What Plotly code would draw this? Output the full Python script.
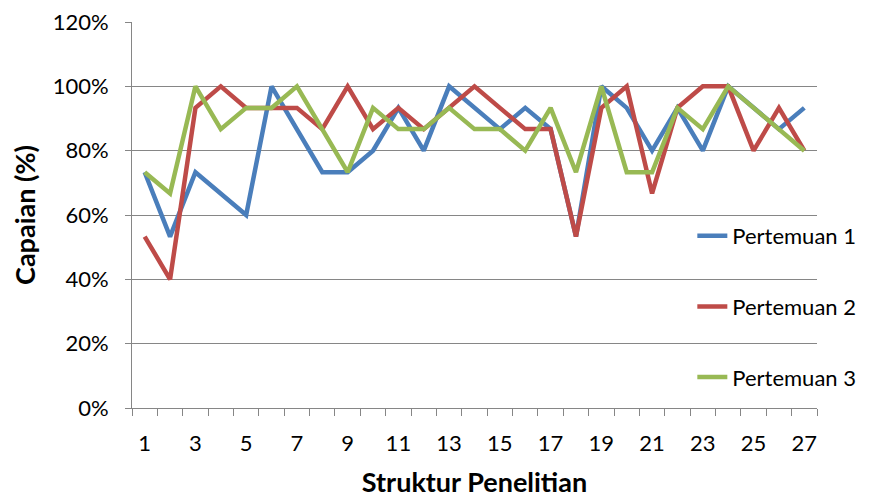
import plotly.graph_objects as go

structures = list(range(1, 28))
x_tick_labels = [str(i) for i in range(1, 28, 2)]

pertemuan_1 = [73.3, 53.3, 73.3, 66.7, 60.0, 100.0, 86.7, 73.3, 73.3, 80.0,
               93.3, 80.0, 100.0, 93.3, 86.7, 93.3, 86.7, 53.3, 100.0, 93.3,
               80.0, 93.3, 80.0, 100.0, 93.3, 86.7, 93.3]
pertemuan_2 = [53.3, 40.0, 93.3, 100.0, 93.3, 93.3, 93.3, 86.7, 100.0, 86.7,
               93.3, 86.7, 93.3, 100.0, 93.3, 86.7, 86.7, 53.3, 93.3, 100.0,
               66.7, 93.3, 100.0, 100.0, 80.0, 93.3, 80.0]
pertemuan_3 = [73.3, 66.7, 100.0, 86.7, 93.3, 93.3, 100.0, 86.7, 73.3, 93.3,
               86.7, 86.7, 93.3, 86.7, 86.7, 80.0, 93.3, 73.3, 100.0, 73.3,
               73.3, 93.3, 86.7, 100.0, 93.3, 86.7, 80.0]

series = [("Pertemuan 1", pertemuan_1, "#4a7ebb"),
          ("Pertemuan 2", pertemuan_2, "#be4b48"),
          ("Pertemuan 3", pertemuan_3, "#98b954")]

FONT = "Lato"
fig = go.Figure()
for i, (name, vals, col) in enumerate(series):
    fig.add_trace(go.Scatter(x=structures, y=vals, mode="lines", name=name,
                             legendgroup=f"g{i}",
                             line=dict(color=col, width=4.5)))

# page body has an 8px margin; figure is sized/margined to compensate
fig.update_layout(
    width=864, height=490,
    margin=dict(l=124, r=55, t=14, b=90, autoexpand=False),
    paper_bgcolor="white", plot_bgcolor="white",
    font=dict(family=FONT, size=22, color="black"),
    showlegend=True,
    legend=dict(x=0.818, y=0.5, xanchor="left", yanchor="top",
                bgcolor="rgba(0,0,0,0)", tracegroupgap=39,
                font=dict(family=FONT, size=22, color="black")),
    xaxis=dict(
        range=[0.5, 27.5],
        automargin=False,
        tickmode="array",
        tickvals=list(range(1, 28, 2)),
        ticktext=x_tick_labels,
        ticks="",
        minor=dict(tick0=0.5, dtick=1, ticks="outside", ticklen=7,
                   tickcolor="#868686", tickwidth=1, showgrid=False),
        showgrid=False, zeroline=False,
        showline=True, linecolor="#868686", linewidth=1,
        ticklabelstandoff=16,
        title=dict(text="<b>Struktur Penelitian</b>", standoff=19,
                   font=dict(family=FONT, size=27)),
    ),
    yaxis=dict(
        range=[0, 120],
        automargin=False,
        ticklabeloverflow="allow",
        tickmode="linear", tick0=0, dtick=20,
        ticksuffix="%",
        ticks="outside", ticklen=6, tickcolor="#868686",
        showgrid=True, gridcolor="#868686", gridwidth=1,
        zeroline=False,
        showline=True, linecolor="#868686", linewidth=1,
        ticklabelstandoff=12,
        title=dict(text="<b>Capaian (%)</b>", standoff=12,
                   font=dict(family=FONT, size=27)),
    ),
)

fig.write_html("out.html")
